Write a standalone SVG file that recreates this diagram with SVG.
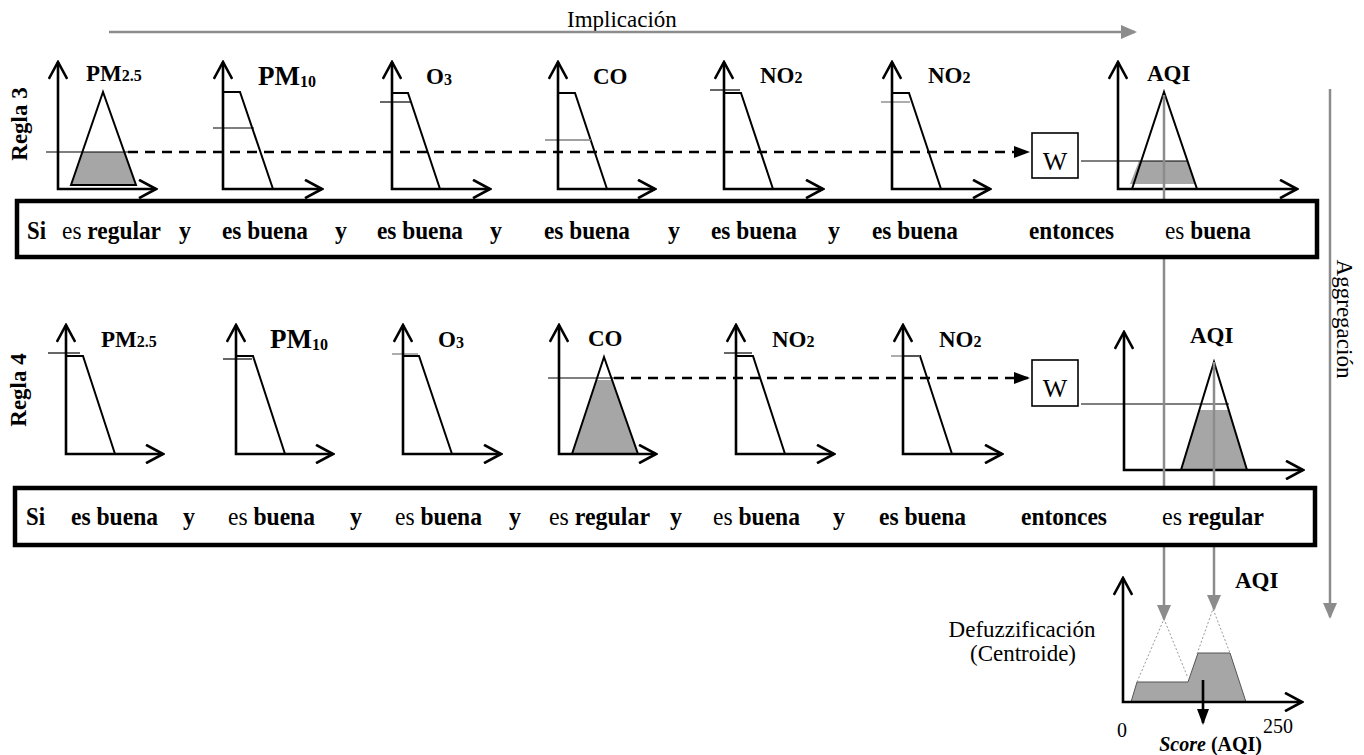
<svg xmlns="http://www.w3.org/2000/svg" width="1364" height="755" viewBox="0 0 1364 755">
<defs>
<style>
text{font-family:"Liberation Serif","Times New Roman",serif;fill:#000}
.ax{fill:none;stroke:#000;stroke-width:2.6;marker-start:url(#oa);marker-end:url(#oa)}
.mf{fill:none;stroke:#000;stroke-width:2}
.thin{stroke:#000;stroke-width:1.2}
.thing{stroke:#808080;stroke-width:1.3}
.sh{fill:#a6a6a6;stroke:none}
.lbl{font-size:23px;font-weight:bold}
.lbl2{font-size:27px;font-weight:bold}
.sub{font-size:16px}
.rule{font-size:25.5px;font-weight:bold}
.nb{font-weight:normal}
.gl{stroke:#8c8c8c;stroke-width:2.5;fill:none;marker-end:url(#ga)}
.dash{stroke:#000;stroke-width:2.6;stroke-dasharray:10 7;fill:none;marker-end:url(#ba)}
.box{fill:#fff;stroke:#000;stroke-width:4.5}
.wbox{fill:#fff;stroke:#000;stroke-width:1.6}
.wt{font-size:26px}
.reg{font-size:23px}
.dot{fill:none;stroke:#999;stroke-width:1;stroke-dasharray:2 2}
</style>
<marker id="oa" viewBox="0 0 20 20" refX="18" refY="10" markerWidth="20" markerHeight="20" markerUnits="userSpaceOnUse" orient="auto-start-reverse"><path d="M1,0.8 L18,10 L1,19.2" fill="none" stroke="#000" stroke-width="2.6"/></marker>
<marker id="ga" viewBox="0 0 16 14" refX="14" refY="7" markerWidth="16" markerHeight="14" markerUnits="userSpaceOnUse" orient="auto"><path d="M0,0 L16,7 L0,14z" fill="#8c8c8c"/></marker>
<marker id="ba" viewBox="0 0 16 12" refX="14" refY="6" markerWidth="16" markerHeight="12" markerUnits="userSpaceOnUse" orient="auto"><path d="M0,0 L16,6 L0,12z" fill="#000"/></marker>
</defs>

<g id="implicacion">
<text x="567" y="27" class="reg">Implicación</text>
</g>
<g id="aggregacion-label">
<text transform="translate(1337,319) rotate(90)" text-anchor="middle" class="reg">Aggregación</text>
</g>

<text transform="translate(27,124) rotate(-90)" text-anchor="middle" style="font-size:23px;font-weight:bold">Regla 3</text>
<text transform="translate(26,390) rotate(-90)" text-anchor="middle" style="font-size:23px;font-weight:bold">Regla 4</text>

<!-- Row 3 charts -->
<g id="r3-pm25">
<polygon class="sh" points="82.4,152 124.3,152 135.3,184 71.7,184"/>
<polygon class="mf" points="71,185 103,92 136,185"/>
<line class="thin" x1="46" y1="152" x2="128" y2="152"/>
<path class="ax" d="M58,62 V189 H156"/>
<text x="86" y="81" class="lbl">PM<tspan class="sub">2.5</tspan></text>
</g>
<g id="r3-pm10">
<polyline class="mf" points="223,92 240,92 273,189"/>
<line class="thin" x1="213" y1="128" x2="254" y2="128"/>
<path class="ax" d="M223,62 V189 H322"/>
<text x="258" y="85" class="lbl2">PM<tspan class="sub" dy="2">10</tspan></text>
</g>
<g id="r3-o3">
<polyline class="mf" points="392,93 408,93 440,189"/>
<line class="thin" x1="380" y1="102" x2="411" y2="102"/>
<path class="ax" d="M392,62 V189 H490"/>
<text x="426" y="84" class="lbl">O<tspan class="sub" dy="1">3</tspan></text>
</g>
<g id="r3-co">
<polyline class="mf" points="558,93 575,93 607,189"/>
<line class="thing" x1="545" y1="140" x2="591" y2="140"/>
<path class="ax" d="M558,62 V189 H655"/>
<text x="593" y="84" class="lbl">CO</text>
</g>
<g id="r3-no2a">
<polyline class="mf" points="724,93 741,93 773,189"/>
<line class="thin" x1="710" y1="90" x2="740" y2="90"/>
<path class="ax" d="M724,62 V189 H823"/>
<text x="760" y="83" class="lbl">NO<tspan class="sub">2</tspan></text>
</g>
<g id="r3-no2b">
<polyline class="mf" points="892,93 909,93 941,189"/>
<line class="thing" x1="881" y1="102" x2="910" y2="102"/>
<path class="ax" d="M892,62 V189 H990"/>
<text x="928" y="83" class="lbl">NO<tspan class="sub">2</tspan></text>
</g>
<g id="r3-w">
<rect class="wbox" x="1032" y="133" width="46" height="45"/>
<text x="1055" y="170" text-anchor="middle" class="wt">W</text>
</g>
<g id="r3-aqi">
<polygon class="sh" points="1139,161 1188,161 1195,184 1130,184"/>
<polygon class="mf" points="1132,189 1164,92 1197,189"/>
<path class="ax" d="M1118,62 V189 H1297"/>
<text x="1147" y="81" class="lbl">AQI</text>
</g>

<!-- Row 4 charts -->
<g id="r4-pm25">
<polyline class="mf" points="66,356 83,356 115,454"/>
<line class="thin" x1="48" y1="353" x2="80" y2="353"/>
<path class="ax" d="M66,325 V454 H163"/>
<text x="101" y="347" class="lbl">PM<tspan class="sub">2.5</tspan></text>
</g>
<g id="r4-pm10">
<polyline class="mf" points="236,356 253,356 285,454"/>
<line class="thin" x1="223" y1="359" x2="252" y2="359"/>
<path class="ax" d="M236,325 V454 H333"/>
<text x="270" y="348" class="lbl2">PM<tspan class="sub" dy="2">10</tspan></text>
</g>
<g id="r4-o3">
<polyline class="mf" points="403,356 419,356 452,454"/>
<line class="thing" x1="392" y1="354" x2="418" y2="354"/>
<path class="ax" d="M403,325 V454 H501"/>
<text x="438" y="347" class="lbl">O<tspan class="sub" dy="1">3</tspan></text>
</g>
<g id="r4-co">
<polygon class="sh" points="596.4,380 612,380 638,454 572,454"/>
<polygon class="mf" points="572,454 604,357 638,454"/>
<line class="thin" x1="548" y1="378" x2="614" y2="378"/>
<path class="ax" d="M559,325 V454 H656"/>
<text x="588" y="346" class="lbl">CO</text>
</g>
<g id="r4-no2a">
<polyline class="mf" points="736,356 753,356 785,454"/>
<line class="thin" x1="724" y1="353" x2="752" y2="353"/>
<path class="ax" d="M736,325 V454 H834"/>
<text x="772" y="347" class="lbl">NO<tspan class="sub">2</tspan></text>
</g>
<g id="r4-no2b">
<polyline class="mf" points="903,356 920,356 952,454"/>
<line class="thing" x1="891" y1="356" x2="920" y2="356"/>
<path class="ax" d="M903,325 V454 H1002"/>
<text x="939" y="347" class="lbl">NO<tspan class="sub">2</tspan></text>
</g>
<g id="r4-w">
<rect class="wbox" x="1032" y="360" width="46" height="46"/>
<text x="1055" y="397" text-anchor="middle" class="wt">W</text>
</g>
<g id="r4-aqi">
<polygon class="sh" points="1199,410 1229,410 1247,470 1181,470"/>
<polygon class="mf" points="1181,470 1214,362 1247,470"/>
<path class="ax" d="M1124,332 V470 H1303"/>
<text x="1190" y="343" class="lbl">AQI</text>
</g>

<!-- Defuzzification -->
<g id="defuzz">
<polygon points="1131,702 1137,682 1188,682 1198,653 1230,653 1246,702" fill="#a6a6a6" stroke="#555" stroke-width="1"/>
<polyline class="dot" points="1137,682 1164,619 1188,678"/>
<polyline class="dot" points="1197,654 1213,609 1230,653"/>
<path class="ax" d="M1123,578 V702 H1302"/>
<text x="1235" y="588" class="lbl">AQI</text>
<text x="1022" y="637" text-anchor="middle" class="reg">Defuzzificación</text>
<text x="1023" y="661" text-anchor="middle" class="reg">(Centroide)</text>
<text x="1122" y="737" text-anchor="middle" style="font-size:20px">0</text>
<text x="1263" y="733" style="font-size:20px">250</text>
<text x="1262" y="751" text-anchor="end" style="font-size:20px;font-weight:bold"><tspan font-style="italic">Score</tspan> (AQI)</text>
</g>

<!-- Connectors -->
<g id="connectors">
<line x1="109" y1="32" x2="1135" y2="32" class="gl"/>
<line x1="1330" y1="89" x2="1330" y2="617" class="gl"/>
<path class="dash" d="M128,152 H1028"/>
<path class="dash" d="M614,378 H1028"/>
<line class="thin" x1="1081" y1="161" x2="1188" y2="161"/>
<line class="thin" x1="1081" y1="404" x2="1229" y2="404"/>
<line x1="1164" y1="95" x2="1164" y2="619" class="gl"/>
<line x1="1214" y1="362" x2="1214" y2="609" class="gl"/>
<line x1="1203" y1="680" x2="1203" y2="723" stroke="#000" stroke-width="2.6" marker-end="url(#ba)"/>
</g>

<!-- Rule boxes -->
<g id="rule3">
<rect class="box" x="17" y="201" width="1300" height="56"/>
<g class="rule">
<text x="27" y="239" textLength="19" lengthAdjust="spacingAndGlyphs">Si</text>
<text x="62" y="239" textLength="99" lengthAdjust="spacingAndGlyphs"><tspan class="nb">es</tspan> regular</text>
<text x="179" y="239" textLength="12" lengthAdjust="spacingAndGlyphs">y</text>
<text x="222" y="239" textLength="86" lengthAdjust="spacingAndGlyphs">es buena</text>
<text x="335" y="239" textLength="12" lengthAdjust="spacingAndGlyphs">y</text>
<text x="377" y="239" textLength="86" lengthAdjust="spacingAndGlyphs">es buena</text>
<text x="490" y="239" textLength="12" lengthAdjust="spacingAndGlyphs">y</text>
<text x="544" y="239" textLength="86" lengthAdjust="spacingAndGlyphs">es buena</text>
<text x="668" y="239" textLength="12" lengthAdjust="spacingAndGlyphs">y</text>
<text x="711" y="239" textLength="86" lengthAdjust="spacingAndGlyphs">es buena</text>
<text x="828" y="239" textLength="12" lengthAdjust="spacingAndGlyphs">y</text>
<text x="872" y="239" textLength="86" lengthAdjust="spacingAndGlyphs">es buena</text>
<text x="1029" y="239" textLength="85" lengthAdjust="spacingAndGlyphs">entonces</text>
<text x="1165" y="239" textLength="86" lengthAdjust="spacingAndGlyphs"><tspan class="nb">es</tspan> buena</text>
</g>
</g>
<g id="rule4">
<rect class="box" x="15" y="488" width="1300" height="57"/>
<g class="rule">
<text x="26" y="525" textLength="19" lengthAdjust="spacingAndGlyphs">Si</text>
<text x="71" y="525" textLength="87" lengthAdjust="spacingAndGlyphs">es buena</text>
<text x="183" y="525" textLength="12" lengthAdjust="spacingAndGlyphs">y</text>
<text x="228" y="525" textLength="87" lengthAdjust="spacingAndGlyphs"><tspan class="nb">es</tspan> buena</text>
<text x="350" y="525" textLength="12" lengthAdjust="spacingAndGlyphs">y</text>
<text x="395" y="525" textLength="87" lengthAdjust="spacingAndGlyphs"><tspan class="nb">es</tspan> buena</text>
<text x="509" y="525" textLength="12" lengthAdjust="spacingAndGlyphs">y</text>
<text x="549" y="525" textLength="101" lengthAdjust="spacingAndGlyphs"><tspan class="nb">es</tspan> regular</text>
<text x="670" y="525" textLength="12" lengthAdjust="spacingAndGlyphs">y</text>
<text x="713" y="525" textLength="87" lengthAdjust="spacingAndGlyphs"><tspan class="nb">es</tspan> buena</text>
<text x="833" y="525" textLength="12" lengthAdjust="spacingAndGlyphs">y</text>
<text x="879" y="525" textLength="87" lengthAdjust="spacingAndGlyphs">es buena</text>
<text x="1021" y="525" textLength="86" lengthAdjust="spacingAndGlyphs">entonces</text>
<text x="1162" y="525" textLength="102" lengthAdjust="spacingAndGlyphs"><tspan class="nb">es</tspan> regular</text>
</g>
</g>
</svg>
